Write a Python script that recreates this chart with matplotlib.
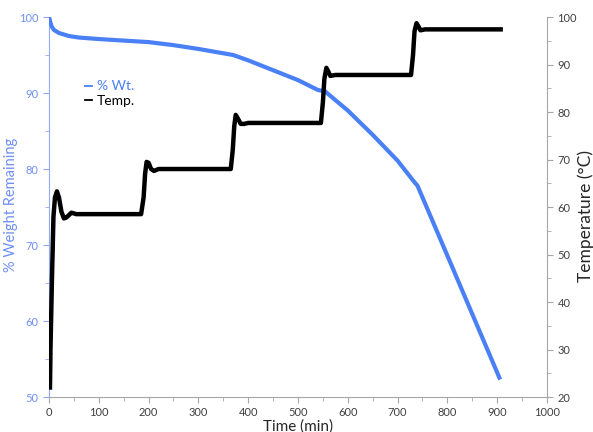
import numpy as np
import matplotlib
matplotlib.use("Agg")
import matplotlib.pyplot as plt
from matplotlib.lines import Line2D
from matplotlib.ticker import MultipleLocator

plt.rcParams['font.family'] = ['Lato', 'DejaVu Sans']

# weight loss curve (% remaining vs minutes)
wt_time = [0, 2, 5, 10, 20, 40, 60, 100, 150, 200, 250, 300, 370, 400, 450,
           500, 540, 555, 560, 600, 650, 700, 731, 740, 800, 906]
wt_pct = [100, 99.5, 98.8, 98.3, 97.9, 97.5, 97.3, 97.1, 96.9, 96.7, 96.3, 95.8,
          95.0, 94.3, 93.0, 91.7, 90.4, 90.2, 89.9, 87.7, 84.5, 81.1, 78.5,
          77.8, 68.6, 52.3]

# stepped oven temperature program (deg C vs minutes)
temp_time = [2, 3, 6, 9, 12, 16, 20, 25, 30, 35, 45, 55,
             185, 190, 193, 196, 200, 205, 211, 220,
             365, 369, 372, 375, 380, 385, 392, 400,
             546, 550, 553, 557, 561, 565, 575,
             727, 731, 734, 738, 742, 746, 755, 907]
temp_c = [22, 30, 45, 58, 62, 63.3, 62, 59, 57.6, 57.8, 58.8, 58.5,
          58.5, 62, 67, 69.5, 69.3, 68, 67.6, 68,
          68, 72, 77, 79.4, 78.5, 77.5, 77.5, 77.7,
          77.7, 82, 87, 89.3, 88.5, 87.6, 87.8,
          87.8, 92, 97, 98.7, 98, 97.2, 97.4, 97.4]

blue = '#4A80F5'
blue_txt = '#6F8FF5'
grey = '#A6A6A6'
txt = '#404040'

fig = plt.figure(figsize=(5.93, 4.32), dpi=100)
ax = fig.add_axes([0.0826, 0.081, 0.8398, 0.8796])
ax2 = ax.twinx()

ax.plot(wt_time, wt_pct, color=blue, lw=3, solid_capstyle='butt', zorder=3)
ax2.plot(temp_time, temp_c, color='black', lw=3.2, solid_joinstyle='round')

ax.set_xlim(0, 1000)
ax.set_ylim(50, 100)
ax2.set_ylim(20, 100)

ax.xaxis.set_major_locator(MultipleLocator(100))
ax.xaxis.set_minor_locator(MultipleLocator(50))
ax.yaxis.set_major_locator(MultipleLocator(10))
ax.yaxis.set_minor_locator(MultipleLocator(5))
ax2.yaxis.set_major_locator(MultipleLocator(10))
ax2.yaxis.set_minor_locator(MultipleLocator(5))

for a in (ax, ax2):
    a.spines['top'].set_visible(False)
ax.spines['right'].set_visible(False)
ax.spines['left'].set_color('#8FA8F8')
ax.spines['bottom'].set_color(grey)
ax2.spines['left'].set_visible(False)
ax2.spines['bottom'].set_visible(False)
ax2.spines['right'].set_color(grey)

ax.tick_params(axis='x', which='both', colors=grey, labelcolor=txt, labelsize=8,
               direction='out')
ax.tick_params(axis='x', which='major', length=4)
ax.tick_params(axis='x', which='minor', length=3)
ax.tick_params(axis='y', which='both', colors='#8FA8F8', labelcolor=blue_txt,
               labelsize=8, direction='out')
ax.tick_params(axis='y', which='major', length=4)
ax.tick_params(axis='y', which='minor', length=3)
ax2.tick_params(axis='y', which='both', colors=grey, labelcolor=txt, labelsize=8,
                direction='out')
ax2.tick_params(axis='y', which='major', length=4)
ax2.tick_params(axis='y', which='minor', length=3)

ax.set_xlabel('Time (min)', fontsize=11, color='#262626', labelpad=1)
ax.set_ylabel('% Weight Remaining', fontsize=10.5, color=blue_txt)
ax.yaxis.set_label_coords(-0.062, 0.505)
ax2.set_ylabel('Temperature (°C)', fontsize=12.5, color='#262626')
ax2.yaxis.set_label_coords(1.062, 0.476)

handles = [Line2D([], [], color=blue, lw=1.3), Line2D([], [], color='black', lw=1.3)]
ax.legend(handles, ['% Wt.', 'Temp.'], loc='upper left', bbox_to_anchor=(0.047, 0.866),
          frameon=False, handlelength=0.5, handletextpad=0.35, labelspacing=0.2,
          fontsize=10, labelcolor=[blue, 'black'])

fig.savefig('out.png', dpi=100)
